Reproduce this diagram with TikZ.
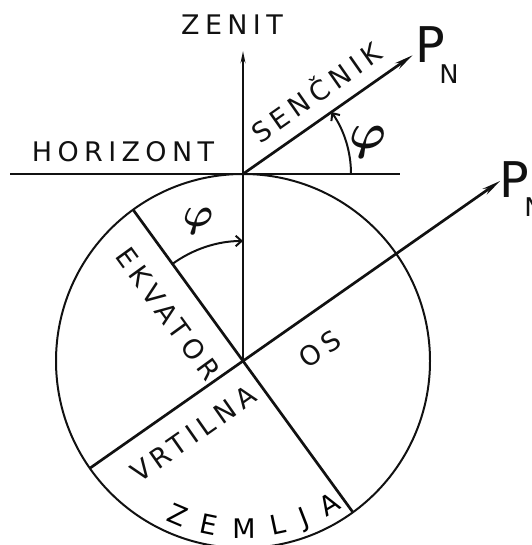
\documentclass[tikz,border=0pt]{standalone}
\usepackage{amsmath}
\usepackage{fontspec}
\setmainfont{DejaVu Sans}
\newfontfamily\hand[LetterSpace=20]{DejaVu Sans}
\usetikzlibrary{arrows.meta,calc,decorations.text}
\definecolor{ink}{HTML}{111111}
\tikzset{
  ray/.style={draw=ink, line width=2.3pt},
  rim/.style={draw=ink, line width=1.7pt},
  beam/.style={ray, -{Stealth[length=16pt, width=6pt]}},
  zen/.style={ray, -{Stealth[length=10pt, width=4pt]}},
  ang/.style={rim, -{Straight Barb[length=5pt, width=9pt]}},
  lab/.style={font=\hand\fontsize{23}{23}\selectfont, text=ink, inner sep=0pt},
  pole/.style={font=\fontsize{42}{42}\selectfont, text=ink, inner sep=0pt},
  sub/.style={font=\fontsize{22}{22}\selectfont, text=ink, inner sep=0pt},
  fi/.style={font=\Huge, scale=#1, text=ink, inner sep=0pt},
}

\begin{document}
\begin{tikzpicture}[x=0.03cm, y=0.03cm]
  \useasboundingbox (0,0) rectangle (531,545);
  \coordinate (C) at (243,184);
  \coordinate (T) at (243,371);
  \coordinate (Z) at (243,494);
  \coordinate (H1) at (10,371);
  \coordinate (H2) at (400,371);
  \coordinate (S) at ($(T)+(35:207)$);
  \coordinate (A1) at ($(C)+(215:187)$);
  \coordinate (A2) at ($(C)+(35:314)$);
  \coordinate (E1) at ($(C)+(126:187)$);
  \coordinate (E2) at ($(C)+(-54:187)$);
  % zemlja in osi
  \draw[rim] (C) circle (187);
  \draw[ray] (H1) -- (H2);
  \draw[zen] (C) -- (Z);
  \draw[beam] (T) -- (S);
  \draw[beam] (A1) -- (A2);
  \draw[ray] (E1) -- (E2);
  % kota phi
  \draw[ang] ($(T)+(0:108)$) arc[start angle=0, end angle=35, radius=108];
  \draw[ang] ($(C)+(126:120)$) arc[start angle=126, end angle=90, radius=120];
  % napisi
  \node[lab] (zenit) at (232,520) {ZENIT};
  \node[lab] (horiz) at (123,393) {HORIZONT};
  \node[lab, rotate=35] (senc) at (315,454) {SENČNIK};
  \node[pole] (pn) at (430,500) {P};
  \node[sub] (pnn) at (449,471) {N};
  \node[pole] (pk) at (514,365) {P};
  \node[sub] (pkn) at (534,338) {N};
  \node[fi=1.7] (fi1) at (368,403) {$\boldsymbol{\varphi}$};
  \node[fi=1.4] (fi2) at (198,324) {$\boldsymbol{\varphi}$};
  \node[lab, rotate=-54] (ekv) at (168,231) {EKVATOR};
  \node[lab, rotate=35] (os) at (320,196) {OS};
  \node[lab, rotate=35] (vrt) at (193,111) {VRTILNA};
  \path[decorate, decoration={text along path, text align=fit to path,
    text={|\hand\fontsize{23}{23}\selectfont|ZEMLJA}}]
    ($(C)+(244:177)$) arc[start angle=244, end angle=304, radius=177];
\end{tikzpicture}
\end{document}
